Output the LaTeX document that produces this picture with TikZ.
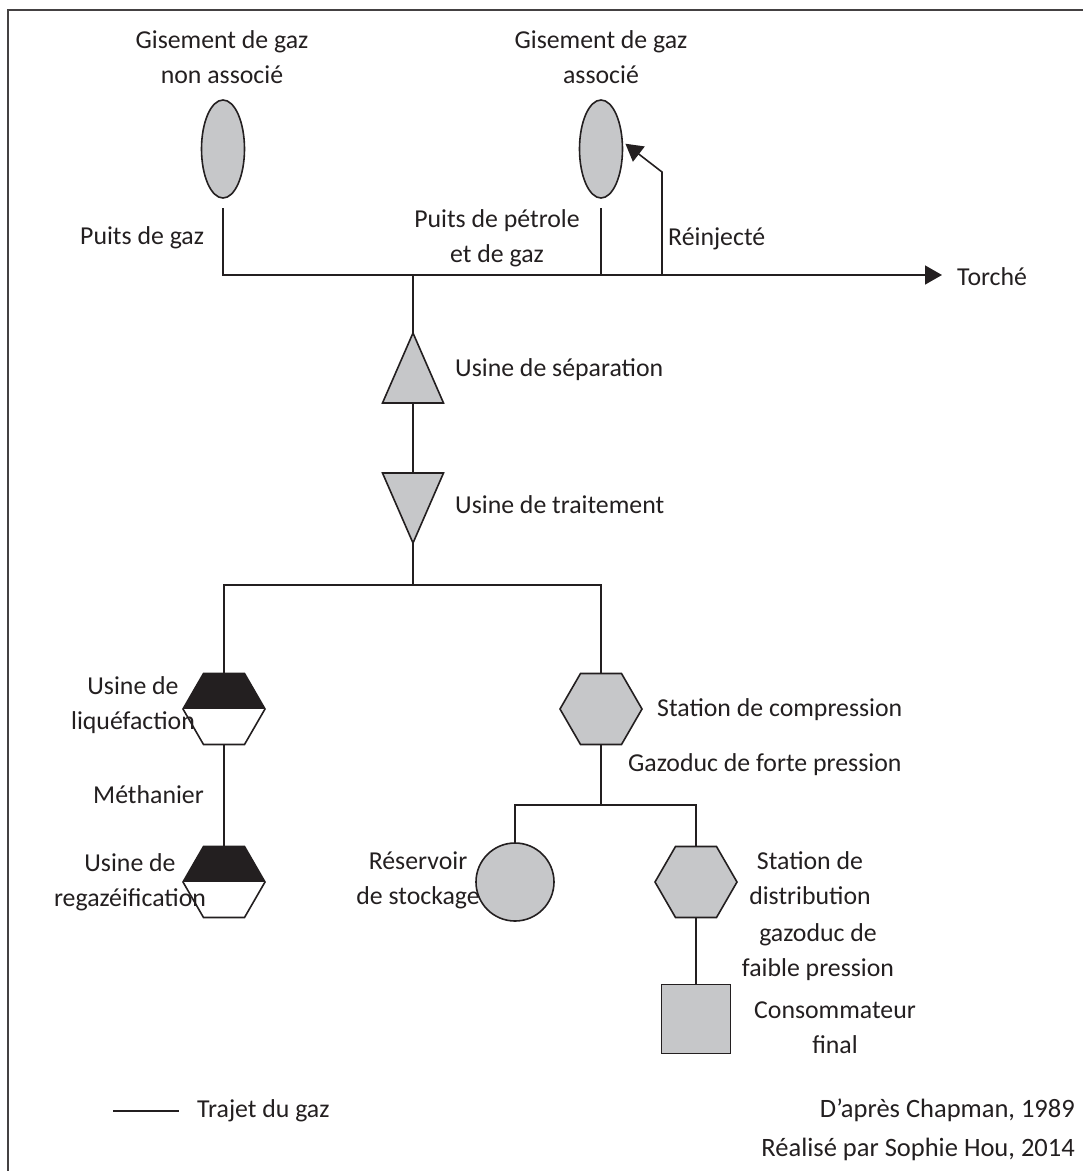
\documentclass[tikz,border=0pt]{standalone}
\usepackage{fontspec}
\setmainfont{Carlito}
\usepackage{tikz}
\usepackage{xcolor}
\usetikzlibrary{shapes.geometric,arrows.meta}

\definecolor{ink}{HTML}{231F20}
\definecolor{gasgray}{HTML}{C6C7C9}

\begin{document}
\begin{tikzpicture}[x=1pt,y=-1pt]
  \tikzset{flow/.style = {draw=ink, line width=1.6pt}}
  \tikzset{shp/.style = {draw=ink, fill=gasgray, line width=1.6pt, inner sep=0pt, outer sep=0pt}}
  \tikzset{gisement/.style = {shp, ellipse, minimum width=43pt, minimum height=98pt}}
  \tikzset{triup/.style = {shp, isosceles triangle, isosceles triangle stretches, shape border rotate=90, minimum width=61pt, minimum height=70pt}}
  \tikzset{tridown/.style = {triup, shape border rotate=270}}
  \tikzset{hexa/.style = {shp, regular polygon, regular polygon sides=6, minimum size=82pt}}
  \tikzset{usine/.style = {hexa, fill=white, path picture={\fill[ink] (path picture bounding box.west) rectangle (path picture bounding box.north east);}}}
  \tikzset{reservoir/.style = {shp, circle, minimum size=78pt}}
  \tikzset{consbox/.style = {shp, rectangle, minimum size=69pt}}
  \tikzset{lbl/.style = {font=\fontsize{25.8}{35}\selectfont, text=ink, inner sep=0pt, align=center}}
  \tikzset{credit/.style = {font=\fontsize{26.5}{32}\selectfont, text=ink, inner sep=0pt, anchor=east}}

  \useasboundingbox (0,0) rectangle (1083,1171);
  \coordinate (fbl) at (8,1171);
  \coordinate (ftr) at (1083,10);
  \draw[ink!85, line width=2.5pt] (fbl) |- (ftr);

  % gisements et puits
	\node[gisement] (gisnon) at (223,149) {};
	\node[gisement] (gisass) at (601,149) {};
	\node[lbl] (lgisnon) at (222,57) {Gisement de gaz\\non associé};
	\node[lbl] (lgisass) at (601,57) {Gisement de gaz\\associé};

	\coordinate (wA) at (223,208);
	\coordinate (wB) at (601,208);
	\coordinate (jB) at (601,275);
	\coordinate (j0) at (413,275);
	\coordinate (rj) at (662,275);
	\coordinate (rjk) at (662,172);
	\coordinate (torch) at (942,275);
	\node[lbl, anchor=west] (lpuitsgaz) at (80,238) {Puits de gaz};
	\node[lbl] (lpuitspet) at (497,238) {Puits de pétrole\\et de gaz};
	\node[lbl, anchor=west] (lreinj) at (668,239) {Réinjecté};
	\node[lbl, anchor=west] (ltorche) at (957,277) {Torché};

  % usines
	\node[triup, anchor=north] (sep) at (413,333) {};
	\node[tridown, anchor=north] (trt) at (413,473) {};
	\node[lbl, anchor=west] (lsep) at (455,370) {Usine de séparation};
	\node[lbl, anchor=west] (ltrt) at (455,505) {Usine de traitement};
	\coordinate (j1) at (413,585);

	\node[usine] (liq) at (224,709) {};
	\node[usine] (regaz) at (224,882) {};
	\node[lbl] (lliq) at (133,705) {Usine de\\liquéfaction};
	\node[lbl, anchor=west] (lmeth) at (93,795) {Méthanier};
	\node[lbl] (lregaz) at (130,882) {Usine de\\regazéification};

	\node[hexa] (comp) at (601,709) {};
	\node[lbl, anchor=west] (lcomp) at (657,710) {Station de compression};
	\node[lbl, anchor=west] (lforte) at (628,765) {Gazoduc de forte pression};
	\coordinate (j2) at (601,805);

	\node[reservoir] (stock) at (515,882) {};
	\node[lbl] (lstock) at (418,880) {Réservoir\\de stockage};
	\node[hexa] (dist) at (696,882) {};
	\node[lbl] (ldist) at (810,878) {Station de\\distribution};
	\node[lbl] (lfaible) at (818,952) {gazoduc de\\faible pression};
	\node[consbox] (cons) at (696,1019) {};
	\node[lbl] (lcons) at (835,1028) {Consommateur\\final};

  % trajet
	\draw[flow, -{Triangle[length=17pt,width=19pt]}] (wA) |- (torch);
	\draw[flow] (wB) -- (jB);
	\draw[flow, -{Triangle[length=17pt,width=19pt]}, shorten >=4pt] (rj) -- (rjk) -- (gisass.20);
    \foreach \from/\to in {j0/sep.north, sep.south/trt.north, trt.south/j1, liq.south/regaz.north, comp.south/j2, dist.south/cons.north}
    \draw[flow] (\from) -- (\to);
    \foreach \from/\to in {liq.north/j1, comp.north/j1, stock.north/j2, dist.north/j2}
    \draw[flow] (\from) |- (\to);

  % legende
	\coordinate (lg1) at (113,1111);
	\coordinate (lg2) at (179,1111);
	\draw[flow] (lg1) -- (lg2);
	\node[lbl, anchor=west] (ltrajet) at (197,1111) {Trajet du gaz};
	\node[credit] (lsrc) at (1075,1110) {D’après Chapman, 1989};
	\node[credit] (lauth) at (1075,1149) {Réalisé par Sophie Hou, 2014};
\end{tikzpicture}
\end{document}
